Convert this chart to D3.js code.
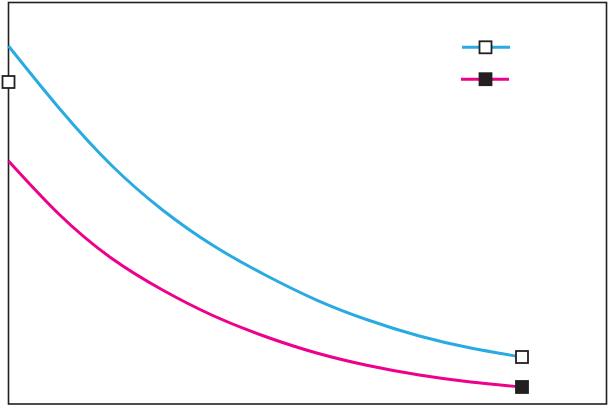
<!DOCTYPE html>
<html>
<head>
<meta charset="utf-8">
<script src="https://cdn.jsdelivr.net/npm/d3@7"></script>
<style>
  html, body { margin: 0; padding: 0; background: #fff; }
  svg { display: block; }
</style>
</head>
<body>
<svg id="chart" width="609" height="406"></svg>
<script>
// ---- data ----
const xValues = [0, 1, 2, 3, 4, 5, 6, 7, 8, 9, 10];
const seriesA = [89.05, 73.38, 59.45, 48.26, 39.30, 32.09, 25.87, 20.90, 16.92, 13.93, 11.69];
const seriesB = [60.45, 47.01, 36.32, 28.36, 21.89, 16.79, 12.69, 9.58, 7.21, 5.47, 4.23];
const seriesNames = ["A", "B"];
const axisMarkerValue = 80.1;

// ---- layout ----
const svg = d3.select("#chart");
const frame = { left: 8.5, top: 2.5, right: 606.5, bottom: 404 };
const x = d3.scaleLinear().domain([0, 10]).range([8.5, 522]);
const y = d3.scaleLinear().domain([0, 100]).range([404, 2]);

const colors = ["#29abe2", "#ec008c"];
const markStroke = "#231f20";
const sq = 12;

// frame
svg.append("rect")
  .attr("x", frame.left).attr("y", frame.top)
  .attr("width", frame.right - frame.left)
  .attr("height", frame.bottom - frame.top)
  .attr("fill", "none").attr("stroke", markStroke).attr("stroke-width", 1.6);

const line = d3.line()
  .x((d, i) => x(xValues[i]))
  .y(d => y(d))
  .curve(d3.curveNatural);

const series = [seriesA, seriesB];
series.forEach((s, k) => {
  svg.append("path")
    .attr("d", line(s))
    .attr("fill", "none")
    .attr("stroke", colors[k])
    .attr("stroke-width", 3);
});

function square(cx, cy, filled) {
  svg.append("rect")
    .attr("x", cx - sq / 2).attr("y", cy - sq / 2)
    .attr("width", sq).attr("height", sq)
    .attr("fill", filled ? markStroke : "#fff")
    .attr("stroke", markStroke).attr("stroke-width", 1.8);
}

// end markers
series.forEach((s, k) => {
  const last = s.length - 1;
  square(x(xValues[last]), y(s[last]), k === 1);
});

// marker on the left axis
square(x(0), y(axisMarkerValue), false);

// legend
const legendX1 = 462, legendX2 = 510;
const legendY = [47.3, 79.2];
seriesNames.forEach((n, k) => {
  svg.append("line")
    .attr("x1", legendX1 - k).attr("x2", legendX2 - k)
    .attr("y1", legendY[k]).attr("y2", legendY[k])
    .attr("stroke", colors[k]).attr("stroke-width", 3);
  square(485.5, legendY[k], k === 1);
});
</script>
</body>
</html>
